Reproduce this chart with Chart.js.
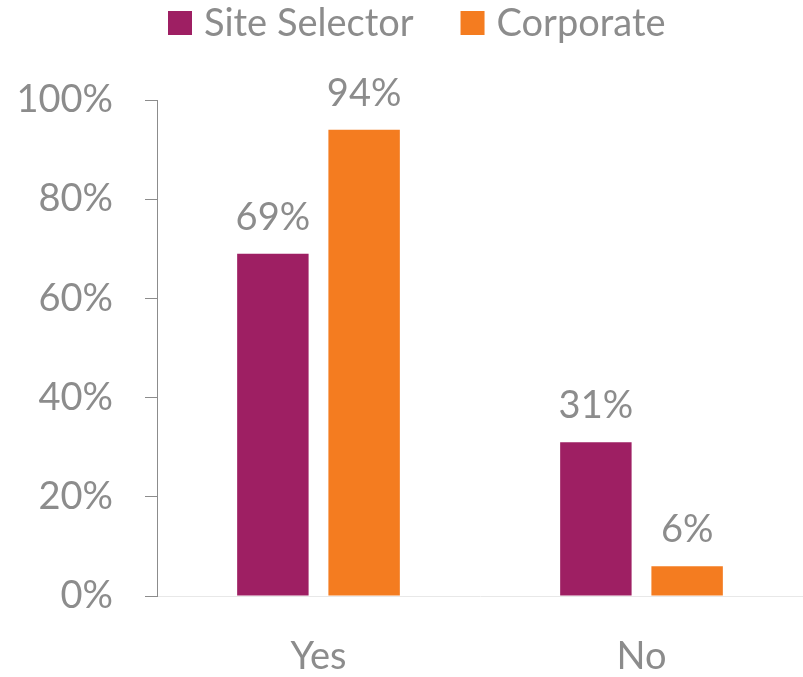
<!DOCTYPE html>
<html>
<head>
<meta charset="utf-8">
<script src="https://cdn.jsdelivr.net/npm/chart.js@4/dist/chart.umd.min.js"></script>
<style>
  html, body { margin: 0; padding: 0; background: #ffffff; }
  #wrap { width: 803px; height: 677px; position: relative; }
</style>
</head>
<body>
<div id="wrap"><canvas id="c" width="803" height="677"></canvas></div>
<script>
const categories = ["Yes", "No"];
const seriesNames = ["Site Selector", "Corporate"];
const siteSelector = [69, 31];
const corporate = [94, 6];
const yTicks = [0, 20, 40, 60, 80, 100];

const COLORS = ["#9E1F63", "#F47C20"];
const TEXT = "#8c8c8c";
const FONT = "Lato, 'Open Sans', sans-serif";

const valueLabels = {
  id: "valueLabels",
  afterDatasetsDraw(chart) {
    const ctx = chart.ctx;
    ctx.save();
    ctx.font = "38px " + FONT;
    ctx.fillStyle = TEXT;
    ctx.textAlign = "center";
    ctx.textBaseline = "alphabetic";
    chart.data.datasets.forEach((ds, i) => {
      const meta = chart.getDatasetMeta(i);
      meta.data.forEach((bar, j) => {
        ctx.fillText(ds.data[j] + "%", bar.x, bar.y - 24);
      });
    });
    ctx.restore();
  }
};

const topLegend = {
  id: "topLegend",
  afterDraw(chart) {
    const ctx = chart.ctx;
    ctx.save();
    ctx.font = "38px " + FONT;
    ctx.textBaseline = "middle";
    ctx.textAlign = "left";
    let x = 168;
    const cy = 23;
    chart.data.datasets.forEach((ds) => {
      ctx.fillStyle = ds.backgroundColor;
      ctx.fillRect(x, cy - 12, 24, 24);
      ctx.fillStyle = TEXT;
      ctx.fillText(ds.label, x + 36, cy + 1);
      x += 36 + ctx.measureText(ds.label).width + 47;
    });
    ctx.restore();
  }
};

new Chart(document.getElementById("c"), {
  type: "bar",
  data: {
    labels: categories,
    datasets: [
      { label: seriesNames[0], data: siteSelector, backgroundColor: COLORS[0] },
      { label: seriesNames[1], data: corporate, backgroundColor: COLORS[1] }
    ]
  },
  options: {
    responsive: false,
    animation: false,
    devicePixelRatio: 1,
    layout: { padding: { top: 100, right: 0, bottom: 0, left: 0 } },
    datasets: { bar: { categoryPercentage: 0.565, barPercentage: 0.783 } },
    plugins: {
      legend: { display: false },
      tooltip: { enabled: false }
    },
    scales: {
      x: {
        grid: { display: false, drawTicks: false },
        border: { display: true, color: "#e8e8e8", width: 1 },
        ticks: { color: TEXT, font: { family: FONT, size: 38 }, padding: 38 },
        afterSetDimensions(scale) { scale.width += 7; },
        afterFit(scale) { scale.height = 81; }
      },
      y: {
        min: 0,
        max: 100,
        afterBuildTicks(scale) { scale.ticks = yTicks.map(v => ({ value: v })); },
        grid: { drawOnChartArea: false, drawTicks: true, tickLength: 12, color: "#8c8c8c" },
        border: { display: true, color: "#8c8c8c", width: 1 },
        ticks: {
          color: TEXT,
          font: { family: FONT, size: 38 },
          padding: 32,
          callback: (v) => v + "%"
        },
        afterFit(scale) { scale.width = 157; }
      }
    }
  },
  plugins: [valueLabels, topLegend]
});
</script>
</body>
</html>
